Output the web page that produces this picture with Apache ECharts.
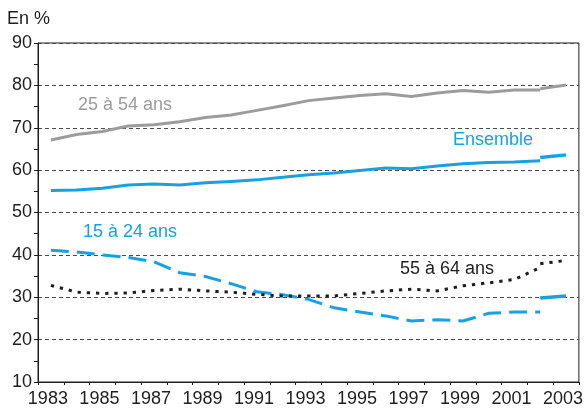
<!DOCTYPE html>
<html>
<head>
<meta charset="utf-8">
<script src="https://cdn.jsdelivr.net/npm/echarts@6/dist/echarts.min.js"></script>
<style>
html,body{margin:0;padding:0;background:#fff;}
#c{width:586px;height:408px;}
</style>
</head>
<body>
<div id="c"></div>
<script>
// ---- data ----
var years = ['1983','1984','1985','1986','1987','1988','1989','1990','1991','1992','1993',
             '1994','1995','1996','1997','1998','1999','2000','2001','2002','2003'];
// 25 à 54 ans (old series 1983-2002, new series 2002-2003)
var age25_54 = [67.1,68.4,69.1,70.4,70.7,71.4,72.4,73.0,74.1,75.2,76.4,77.0,77.6,78.0,77.4,78.2,78.8,78.4,78.9,78.9,null];
var age25_54New = [null,null,null,null,null,null,null,null,null,null,null,null,null,null,null,null,null,null,null,79.2,80.1];
// Ensemble
var ensemble = [55.2,55.3,55.7,56.5,56.7,56.5,57.0,57.3,57.7,58.3,58.9,59.3,59.9,60.5,60.3,61.0,61.5,61.8,61.9,62.2,null];
var ensembleNew = [null,null,null,null,null,null,null,null,null,null,null,null,null,null,null,null,null,null,null,63.0,63.6];
// 15 à 24 ans
var age15_24 = [41.1,40.7,40.0,39.4,38.4,35.8,34.9,33.2,31.3,30.6,29.5,27.5,26.5,25.6,24.4,24.7,24.4,26.2,26.5,26.5,null];
var age15_24New = [null,null,null,null,null,null,null,null,null,null,null,null,null,null,null,null,null,null,null,29.8,30.3];
// 55 à 64 ans
var age55_64 = [32.8,31.2,30.9,31.0,31.6,31.9,31.5,31.2,30.7,30.3,30.3,30.3,30.9,31.5,31.9,31.5,32.7,33.4,34.2,37.0,null];
var age55_64New = [null,null,null,null,null,null,null,null,null,null,null,null,null,null,null,null,null,null,null,37.9,38.7];

var seriesLabels = ['25 à 54 ans','Ensemble','15 à 24 ans','55 à 64 ans'];
var yTickLabels = [10,20,30,40,50,60,70,80,90];

// ---- chart ----
var GRAY = '#9c9c9c', BLUE = '#16a2e0', BLACK = '#1e1e1e';
var FONT = 'Liberation Sans, Arial, sans-serif';
var chart = echarts.init(document.getElementById('c'), null, {renderer:'canvas'});

function line(name, data, color, type, width) {
  return {
    name: name, type: 'line', data: data, symbol: 'none', connectNulls: false,
    lineStyle: {color: color, width: width, type: type, cap: 'butt', join: 'miter'},
    silent: true, animation: false, z: 3
  };
}

chart.setOption({
  animation: false,
  backgroundColor: '#fff',
  title: {
    text: 'En %', left: 7, top: 10, padding: 0,
    textStyle: {fontFamily: FONT, fontSize: 18, fontWeight: 'normal', color: BLACK}
  },
  grid: {
    left: 38, right: 7, top: 43, bottom: 25,
    show: true, borderColor: BLACK, borderWidth: 1, backgroundColor: 'transparent'
  },
  xAxis: {
    type: 'category', data: years, boundaryGap: true,
    axisLine: {lineStyle: {color: BLACK, width: 1}},
    axisTick: {show: true, interval: 0, length: 3, lineStyle: {color: BLACK}},
    axisLabel: {
      interval: 1, margin: 8, fontFamily: FONT, fontSize: 18, color: BLACK,
      padding: [0, 6, 0, 0]
    },
    splitLine: {show: false}
  },
  yAxis: {
    type: 'value', min: yTickLabels[0], max: yTickLabels[yTickLabels.length-1], interval: 10,
    axisLine: {show: true, lineStyle: {color: BLACK, width: 1}},
    axisTick: {show: true, length: 4, lineStyle: {color: BLACK}},
    minorTick: {show: true, splitNumber: 2, length: 4, lineStyle: {color: BLACK}},
    axisLabel: {margin: 6, fontFamily: FONT, fontSize: 18, color: BLACK},
    splitLine: {show: true, lineStyle: {color: '#4a4a4a', width: 1, type: [4, 3]}}
  },
  series: [
    line(seriesLabels[0], age25_54, GRAY, 'solid', 3),
    line(seriesLabels[0] + ' (2)', age25_54New, GRAY, 'solid', 3),
    line(seriesLabels[1], ensemble, BLUE, 'solid', 3),
    line(seriesLabels[1] + ' (2)', ensembleNew, BLUE, 'solid', 3.5),
    line(seriesLabels[2], age15_24, BLUE, [18, 8], 3),
    line(seriesLabels[2] + ' (2)', age15_24New, BLUE, 'solid', 3.5),
    line(seriesLabels[3], age55_64, BLACK, [3.3, 5.9], 3),
    line(seriesLabels[3] + ' (2)', age55_64New, BLACK, [3.3, 5.9], 3)
  ],
  graphic: [
    {type: 'text', left: 78, top: 96, style: {text: seriesLabels[0], fill: GRAY, font: '18px ' + FONT}},
    {type: 'text', left: 453, top: 131, style: {text: seriesLabels[1], fill: BLUE, font: '18px ' + FONT}},
    {type: 'text', left: 83, top: 223, style: {text: seriesLabels[2], fill: BLUE, font: '18px ' + FONT}},
    {type: 'text', left: 400, top: 260, style: {text: seriesLabels[3], fill: BLACK, font: '18px ' + FONT}}
  ]
});
</script>
</body>
</html>
